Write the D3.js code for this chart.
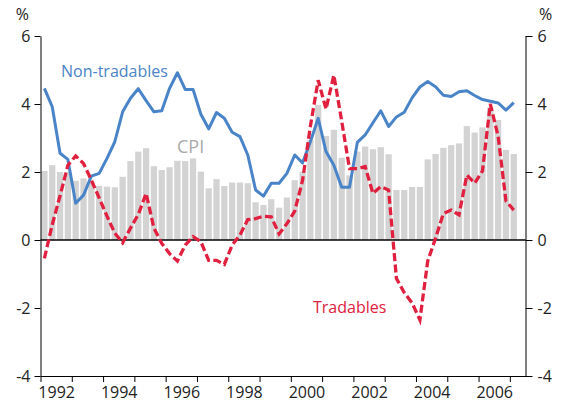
<!DOCTYPE html>
<html>
<head>
<meta charset="utf-8">
<script src="https://cdn.jsdelivr.net/npm/d3@7"></script>
<style>
  body { margin: 0; background: #fff; }
  svg { display: block; font-family: "Open Sans", sans-serif; }
  .axis path, .axis line { stroke: #000; }
  .axis text { font-size: 16px; fill: #222; font-family: "Open Sans", sans-serif; }
</style>
</head>
<body>
<div id="chart"></div>
<script>
// quarterly series, 1992 Q1 .. 2007 Q1 (year-ended %)
const startYear = 1992;
const cpi = [
  2.03, 2.2, 2.0, 2.0, 1.74, 1.81, 1.72, 1.59, 1.57, 1.55,
  1.86, 2.32, 2.6, 2.7, 2.17, 2.06, 2.14, 2.33, 2.32, 2.4,
  2.01, 1.52, 1.79, 1.59, 1.69, 1.69, 1.67, 1.11, 1.03, 1.2,
  0.95, 1.25, 1.76, 2.01, 2.94, 3.97, 3.06, 3.24, 2.42, 1.9,
  2.6, 2.75, 2.67, 2.73, 2.52, 1.47, 1.47, 1.56, 1.56, 2.37,
  2.53, 2.71, 2.79, 2.84, 3.35, 3.16, 3.31, 3.9, 3.53, 2.65,
  2.53
];
const nonTradables = [
  4.46, 3.92, 2.55, 2.37, 1.08, 1.32, 1.88, 1.96, 2.4, 2.89,
  3.77, 4.17, 4.45, 4.1, 3.77, 3.8, 4.46, 4.92, 4.43, 4.43,
  3.7, 3.27, 3.75, 3.58, 3.17, 3.04, 2.5, 1.47, 1.29, 1.67,
  1.67, 1.96, 2.5, 2.27, 2.89, 3.58, 2.6, 2.2, 1.55, 1.55,
  2.87, 3.09, 3.45, 3.8, 3.34, 3.62, 3.76, 4.18, 4.5, 4.66,
  4.51, 4.26, 4.22, 4.36, 4.39, 4.25, 4.13, 4.08, 4.03, 3.82,
  4.04
];
const tradables = [
  -0.54, 0.45, 1.3, 2.2, 2.47, 2.25, 1.76, 1.24, 0.7, 0.2,
  -0.08, 0.35, 0.75, 1.37, 0.35, -0.1, -0.4, -0.62, -0.15, 0.1,
  -0.05, -0.6, -0.6, -0.72, -0.15, 0.15, 0.6, 0.63, 0.7, 0.68,
  0.18, 0.48, 0.85, 1.75, 3.35, 4.7, 3.85, 4.85, 3.5, 2.1,
  2.1, 2.16, 1.37, 1.57, 1.47, -1.13, -1.55, -1.85, -2.35, -0.62,
  0.05, 0.78, 0.88, 0.74, 1.91, 1.67, 2.03, 4.0, 3.05, 1.15,
  0.88
];
const yTicks = [-4, -2, 0, 2, 4, 6];
const yearTicks = d3.range(1992, 2008);
const yearLabels = [1992, 1994, 1996, 1998, 2000, 2002, 2004, 2006];

const width = 562, height = 405;
const plotL = 40.5, plotR = 525.5, plotT = 36, plotB = 376;

const svg = d3.select("#chart").append("svg")
  .attr("width", width)
  .attr("height", height);

const x = d3.scaleLinear().domain([1992, 2007.5]).range([plotL, plotR]);
const y = d3.scaleLinear().domain([-4, 6]).range([plotB, plotT]);

// quarter midpoints
const qDate = i => startYear + (i + 0.5) / 4;
const qw = x(1992.25) - x(1992);
const barW = qw * 0.8;

// CPI bars
svg.append("g").selectAll("rect")
  .data(cpi)
  .enter()
  .append("rect")
  .attr("x", (d, i) => x(qDate(i)) - barW / 2)
  .attr("width", barW)
  .attr("y", d => y(Math.max(0, d)))
  .attr("height", d => Math.abs(y(d) - y(0)))
  .attr("fill", "#d3d3d3");

// zero line
svg.append("line")
  .attr("x1", plotL).attr("x2", plotR)
  .attr("y1", y(0)).attr("y2", y(0))
  .attr("stroke", "#000")
  .attr("stroke-width", 1.3);

const line = d3.line()
  .x((d, i) => x(qDate(i)))
  .y(d => y(d));

svg.append("path")
  .datum(nonTradables)
  .attr("d", line)
  .attr("fill", "none")
  .attr("stroke", "#4a84c8")
  .attr("stroke-width", 3)
  .attr("stroke-linejoin", "round");

svg.append("path")
  .datum(tradables)
  .attr("d", line)
  .attr("fill", "none")
  .attr("stroke", "#e0203e")
  .attr("stroke-width", 3.3)
  .attr("stroke-dasharray", "8,3.5");

// y axes (plain hyphen for negatives, as in the original)
const fmt = d => String(d);
const yAxisL = d3.axisLeft(y).tickValues(yTicks).tickSize(6).tickSizeOuter(0).tickPadding(4).tickFormat(fmt);
const yAxisR = d3.axisRight(y).tickValues(yTicks).tickSize(7).tickSizeOuter(0).tickPadding(5).tickFormat(fmt);

svg.append("g").attr("class", "axis")
  .attr("transform", `translate(${plotL},0)`)
  .call(yAxisL);
svg.append("g").attr("class", "axis")
  .attr("transform", `translate(${plotR},0)`)
  .call(yAxisR);

// x axis: year ticks, labels centred on each labelled year
svg.append("g").attr("class", "axis")
  .attr("transform", `translate(0,${plotB})`)
  .call(d3.axisBottom(x).tickValues(yearTicks).tickSize(6).tickSizeOuter(0).tickFormat(""));
svg.append("g").attr("class", "axis xlab")
  .attr("transform", `translate(0,${plotB})`)
  .call(d3.axisBottom(x).tickValues(yearLabels.map(d => d + 0.5)).tickSize(0).tickPadding(11)
    .tickFormat(d => Math.floor(d)))
  .call(g => g.select(".domain").remove());

// % units
svg.append("text").attr("x", 29).attr("y", 20).attr("text-anchor", "end")
  .attr("font-size", 16).attr("fill", "#222").text("%");
svg.append("text").attr("x", 539).attr("y", 20)
  .attr("font-size", 16).attr("fill", "#222").text("%");

// series labels
svg.append("text").attr("x", 61).attr("y", 77)
  .attr("font-size", 16).attr("fill", "#4a84c8").text("Non-tradables");
svg.append("text").attr("x", 177).attr("y", 153)
  .attr("font-size", 18).attr("fill", "#a9a9a9").text("CPI");
svg.append("text").attr("x", 313).attr("y", 313)
  .attr("font-size", 16).attr("fill", "#e0203e").text("Tradables");
</script>
</body>
</html>
